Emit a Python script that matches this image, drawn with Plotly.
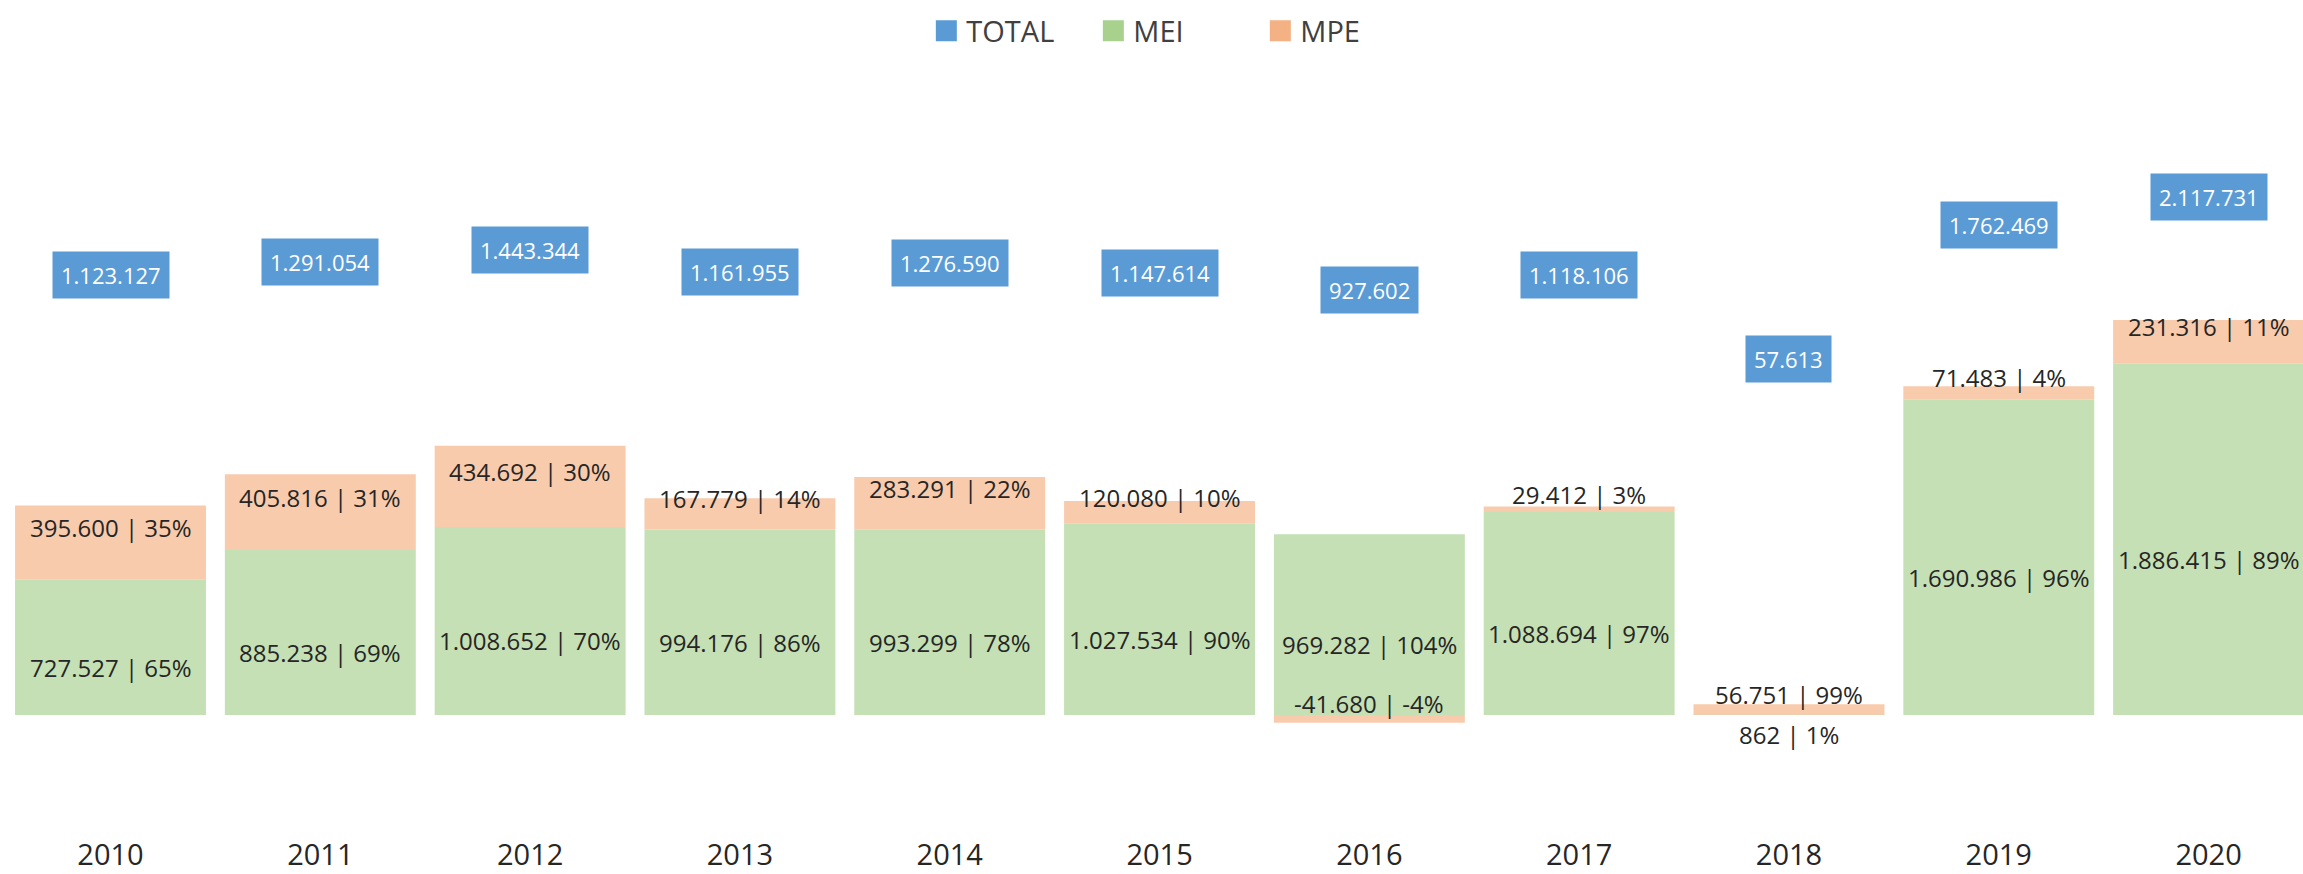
import plotly.graph_objects as go

years = ['2010', '2011', '2012', '2013', '2014', '2015', '2016', '2017', '2018', '2019', '2020']
mei = [727527, 885238, 1008652, 994176, 993299, 1027534, 969282, 1088694, 862, 1690986, 1886415]
mpe = [395600, 405816, 434692, 167779, 283291, 120080, -41680, 29412, 56751, 71483, 231316]
total = [1123127, 1291054, 1443344, 1161955, 1276590, 1147614, 927602, 1118106, 57613, 1762469, 2117731]
mei_pct = [65, 69, 70, 86, 78, 90, 104, 97, 1, 96, 89]
mpe_pct = [35, 31, 30, 14, 22, 10, -4, 3, 99, 4, 11]

FONT = "Open Sans"
TXT = "#262626"


def fmt(v):
    return f"{v:,}".replace(",", ".")


fig = go.Figure()
fig.add_bar(x=years, y=mei, name="MEI", marker=dict(color="#C5E0B4", line=dict(width=0)),
            showlegend=False, hoverinfo="skip")
fig.add_bar(x=years, y=mpe, name="MPE", marker=dict(color="#F8CBAD", line=dict(width=0)),
            showlegend=False, hoverinfo="skip")
# invisible carrier of TOTAL on the secondary axis
fig.add_scatter(x=years, y=total, yaxis="y2", mode="markers", marker=dict(size=1, opacity=0),
                showlegend=False, hoverinfo="skip")

# legend entries
for name, color in [("TOTAL", "#5B9BD5"), ("MEI", "#A9D18E"), ("MPE", "#F4B183")]:
    fig.add_scatter(x=[None], y=[None], mode="markers", name=name,
                    marker=dict(symbol="square", size=16, color=color,
                                line=dict(width=5, color=color)))

annotations = []
for i, yr in enumerate(years):
    annotations.append(dict(x=i, y=mei[i] / 2, xref="x", yref="y", showarrow=False,
                            text=f"{fmt(mei[i])} | {mei_pct[i]}%", yshift=-20,
                            font=dict(family=FONT, size=24, color=TXT)))
    c = mei[i] + mpe[i] / 2 if mpe[i] >= 0 else mpe[i] / 2
    annotations.append(dict(x=i, y=c, xref="x", yref="y", showarrow=False,
                            text=f"{fmt(mpe[i])} | {mpe_pct[i]}%", yshift=15,
                            font=dict(family=FONT, size=24, color=TXT)))
    annotations.append(dict(x=i, y=total[i], xref="x", yref="y2", showarrow=False,
                            text=fmt(total[i]), bgcolor="#5B9BD5", borderpad=8,
                            font=dict(family=FONT, size=22, color="white")))

fig.update_layout(
    width=2303, height=874,
    margin=dict(l=0, r=0, t=70, b=39),
    barmode="relative", bargap=0.09,
    plot_bgcolor="white", paper_bgcolor="white",
    font=dict(family=FONT, color=TXT),
    showlegend=True,
    legend=dict(orientation="h", x=0.511, xanchor="center", y=1.051, yanchor="middle",
                entrywidth=122, entrywidthmode="pixels",
                font=dict(family=FONT, size=29, color="#404040"), traceorder="normal"),
    xaxis=dict(type="category", range=[-0.5267, 10.450], showgrid=False, zeroline=False,
               showline=False, ticks="", tickfont=dict(family=FONT, size=29, color=TXT)),
    yaxis=dict(range=[-643400, 3458400], visible=False, showgrid=False, zeroline=False),
    yaxis2=dict(range=[-6010000, 3735000], overlaying="y", visible=False, showgrid=False,
                zeroline=False),
    annotations=annotations,
)

fig.write_html("out.html", config={"displayModeBar": False},
               post_script="document.body.style.margin='0';document.body.style.overflow='hidden';")
